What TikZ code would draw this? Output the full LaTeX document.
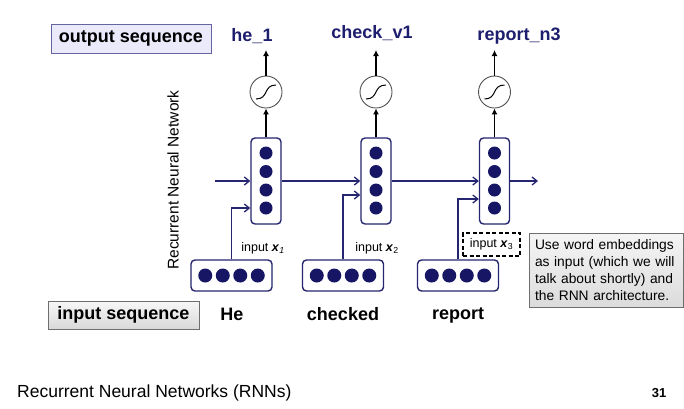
\documentclass[tikz,border=0pt]{standalone}
\usepackage{fontspec}
\setmainfont{Liberation Sans}
\usetikzlibrary{arrows.meta}
\definecolor{navyline}{RGB}{38,38,112}
\definecolor{navydot}{RGB}{22,22,100}
\definecolor{navytext}{RGB}{30,30,110}
\definecolor{sigline}{RGB}{80,80,80}
\definecolor{boxblue}{RGB}{100,100,160}
\definecolor{boxfill}{RGB}{234,234,250}
\definecolor{notegray}{RGB}{110,110,110}
\begin{document}
\begin{tikzpicture}[x=1pt,y=-1pt,
  hbox/.style={draw=navyline,line width=1.4pt,rounded corners=4pt,minimum width=30pt,minimum height=86pt,inner sep=0pt},
  ibox/.style={draw=navyline,line width=1.4pt,rounded corners=4pt,minimum width=81pt,minimum height=31pt,inner sep=0pt},
  vdot/.style={circle,fill=navydot,minimum size=13pt,inner sep=0pt},
  sig/.style={circle,draw=sigline,line width=0.9pt,fill=white,minimum size=32pt,inner sep=0pt},
  outw/.style={font=\bfseries\fontsize{18}{20}\selectfont,text=navytext,inner sep=0pt,anchor=base},
  inw/.style={font=\bfseries\fontsize{18}{20}\selectfont,inner sep=0pt,anchor=base},
  lab/.style={font=\fontsize{12.5}{15}\selectfont,inner sep=0pt},
  rec/.style={draw=navyline,line width=1.3pt,-{Straight Barb[length=5pt,width=8pt]}},
  outarr/.style={draw=black,line width=1.6pt,-{Latex[length=6pt,width=6pt]}},
  sigcurve/.style={draw=black,line width=1pt},
]
\useasboundingbox (0,0) rectangle (684,408);
\fill[white] (0,0) rectangle (684,408);

% hidden boxes
\foreach \k/\x in {1/266,2/376,3/494.5}{
  \node[hbox] (h\k) at (\x,181) {};
  \foreach \j/\y in {1/153,2/171.5,3/190,4/208}{
    \node[vdot] (h\k d\j) at (\x,\y) {};
  }
  \node[sig] (s\k) at (\x,92) {};
  \draw[sigcurve] ([shift={(-10,7)}]s\k.center) .. controls ([shift={(3,7)}]s\k.center) and ([shift={(-3,-7)}]s\k.center) .. ([shift={(10,-7)}]s\k.center);
  \coordinate (ot\k) at (\x,50);
  \draw[outarr] (h\k.north) -- (s\k.south);
  \draw[outarr] (s\k.north) -- (ot\k);
}

% input boxes
\foreach \k/\x in {1/231.5,2/343,3/458}{
  \node[ibox] (i\k) at (\x,275.5) {};
  \foreach \j/\d in {1/-26.25,2/-8.75,3/8.75,4/26.25}{
    \node[vdot,minimum size=14pt] (i\k d\j) at (\x+\d,275.5) {};
  }
}

% recurrent connections
\coordinate (rin) at (215,181);
\coordinate (rout) at (538,181);
\draw[rec] (rin) -- (h1.west);
\draw[rec] (h1.east) -- (h2.west);
\draw[rec] (h2.east) -- (h3.west);
\draw[rec] (h3.east) -- (rout);

% input connections
\draw[rec] (i1.north) |- ([yshift=-27pt]h1.west);
\draw[rec] (i2.north) |- ([yshift=-14pt]h2.west);
\draw[rec] (i3.north) |- ([yshift=-18pt]h3.west);

% input labels
\node[lab] (l1) at (263,248) {input \textbf{\textit{x}}\textsubscript{\textit{1}}};
\node[lab] (l2) at (377,248) {input \textbf{\textit{x}}\textsubscript{2}};
\node[lab,draw=black,line width=1.4pt,dash pattern=on 4pt off 2.5pt,minimum width=57pt,minimum height=23pt] (l3) at (491.5,244.5) {input \textbf{\textit{x}}\textsubscript{3}};

% output words
\node[outw] (o1) at (252,41) {he\_1};
\node[outw] (o2) at (372,38) {check\_v1};
\node[outw] (o3) at (519,40) {report\_n3};

% input words
\node[inw] (w1) at (232,320) {He};
\node[inw] (w2) at (343,320) {checked};
\node[inw] (w3) at (458,319) {report};

% sequence boxes
\node[draw=boxblue,fill=boxfill,line width=1pt,minimum width=160pt,minimum height=29pt,inner sep=0pt,font=\bfseries\fontsize{18}{20}\selectfont] (outseq) at (131,38.5) {output sequence};
\node[draw=notegray,line width=1pt,top color=gray!6,bottom color=gray!30,minimum width=151pt,minimum height=28pt,inner sep=0pt,font=\bfseries\fontsize{18}{20}\selectfont] (inseq) at (123.5,315) {input sequence};

% note
\node[draw=notegray,line width=1pt,top color=gray!8,bottom color=gray!28,minimum width=154pt,minimum height=74pt,text width=142pt,align=left,inner sep=6pt,font=\fontsize{13.8}{17}\selectfont] (note) at (606,270) {Use word embeddings\\as input (which we will\\talk about shortly) and\\the RNN architecture.};

% vertical title
\node[rotate=90,inner sep=0pt,font=\fontsize{15.5}{18}\selectfont] (vt) at (173,180) {Recurrent Neural Network};

% footer
\node[anchor=base west,inner sep=0pt,font=\fontsize{17.5}{20}\selectfont] (foot) at (17,397) {Recurrent Neural Networks (RNNs)};
\node[anchor=base,inner sep=0pt,font=\bfseries\fontsize{13}{15}\selectfont] (pg) at (659,397) {31};
\end{tikzpicture}
\end{document}
